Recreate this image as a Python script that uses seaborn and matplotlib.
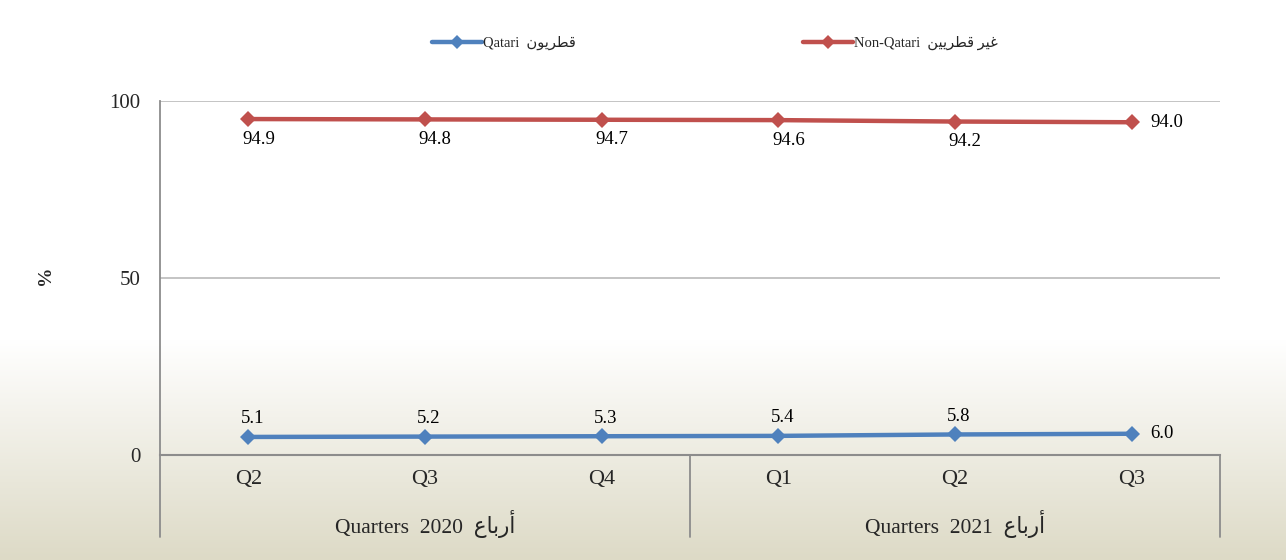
import numpy as np
import pandas as pd
import matplotlib
matplotlib.use("Agg")
import matplotlib.pyplot as plt
from matplotlib.font_manager import FontProperties
from matplotlib.lines import Line2D
import matplotlib.transforms as mtransforms
import seaborn as sns

# ---------------- data ----------------
quarters = ["Q2", "Q3", "Q4", "Q1", "Q2", "Q3"]
years = ["2020", "2021"]
year_sizes = [3, 3]
qatari = [5.1, 5.2, 5.3, 5.4, 5.8, 6.0]
non_qatari = [94.9, 94.8, 94.7, 94.6, 94.2, 94.0]
y_ticks = [0, 50, 100]

# Arabic text (pre-shaped presentation forms in visual order)
AR_QATARI = "\uFEE5\uFEEE\uFEF3\uFEAE\uFEC4\uFED7"            # قطريون
AR_NONQATARI = "\uFEE6\uFEF4\uFEF3\uFEAE\uFEC4\uFED7 \uFEAE\uFEF4\uFECF"  # غير قطريين
AR_QUARTERS = "\uFEC9\uFE8E\uFE91\uFEAD\uFE83"                # أرباع

lbl_qatari = "Qatari  " + AR_QATARI
lbl_non = "Non-Qatari  " + AR_NONQATARI

# ---------------- style ----------------
sns.set_style("white")
plt.rcParams["font.family"] = ["Liberation Serif", "DejaVu Sans"]

BLUE = "#4F81BD"
RED = "#C0504D"

W, H = 1286, 560
fig = plt.figure(figsize=(W / 100, H / 100), dpi=100)

# background gradient
bg = fig.add_axes([0, 0, 1, 1], zorder=-10)
bg.set_axis_off()
rows = np.linspace(0, 1, H)
g_start = 340 / H
top_c = np.array([1.0, 1.0, 1.0])
bot_c = np.array([221, 218, 198]) / 255.0
t = np.clip((rows - g_start) / (1 - g_start), 0, 1)[:, None]
grad = top_c * (1 - t) + bot_c * t
img = np.repeat(grad[:, None, :], W, axis=1)
bg.imshow(img, aspect="auto", extent=[0, 1, 0, 1], origin="upper")
bg.set_xlim(0, 1)
bg.set_ylim(0, 1)

# main axes
x0, x1 = 160, 1220
y_top, y_bot = 101, 455
ax = fig.add_axes([x0 / W, 1 - y_bot / H, (x1 - x0) / W, (y_bot - y_top) / H])
ax.set_facecolor("none")

pos = np.arange(len(quarters))
df = pd.DataFrame({
    "pos": np.concatenate([pos, pos]),
    "value": qatari + non_qatari,
    "series": [lbl_qatari] * len(pos) + [lbl_non] * len(pos),
})
sns.lineplot(data=df, x="pos", y="value", hue="series",
             palette={lbl_qatari: BLUE, lbl_non: RED},
             marker="D", markersize=8, markeredgewidth=0, linewidth=3.2,
             sort=False, legend=False, ax=ax)

ax.set_xlim(-0.5, len(quarters) - 0.5)
ax.set_ylim(0, 100)
ax.set_yticks(y_ticks)
ax.set_yticklabels([str(v) for v in y_ticks])
ax.set_xticks(pos)
ax.set_xticklabels(quarters)
ax.tick_params(axis="y", length=0, pad=14, labelsize=15)
ax.tick_params(axis="x", length=0, pad=11, labelsize=16)
ax.set_xlabel("")
ax.set_ylabel("")
ax.grid(False)
for v in y_ticks[1:]:
    ax.axhline(v, color="#BFBFBF", lw=1.3, zorder=0)
for s in ["top", "right"]:
    ax.spines[s].set_visible(False)
ax.spines["left"].set_color("#8C8C8C")
ax.spines["left"].set_linewidth(1.3)
ax.spines["bottom"].set_color("#8C8C8C")
ax.spines["bottom"].set_linewidth(1.5)

# data labels
offset = lambda dx, dy: mtransforms.offset_copy(ax.transData, fig=fig, x=dx, y=dy, units="dots")
n = len(quarters)
for i, v in enumerate(non_qatari):
    if i < n - 1:
        ax.text(i, v, f"{v:.1f}", transform=offset(10, -20), ha="center", va="center",
                fontsize=13.5, color="black")
    else:
        ax.text(i, v, f"{v:.1f}", transform=offset(19, 0), ha="left", va="center",
                fontsize=13.5, color="black")
for i, v in enumerate(qatari):
    if i < n - 1:
        ax.text(i, v, f"{v:.1f}", transform=offset(4, 18), ha="center", va="center",
                fontsize=13.5, color="black")
    else:
        ax.text(i, v, f"{v:.1f}", transform=offset(19, 0), ha="left", va="center",
                fontsize=13.5, color="black")

# multi-level category axis
trans = mtransforms.blended_transform_factory(ax.transData, ax.transAxes)
line_bottom = (y_bot - 537) / (y_bot - y_top)
bounds = np.concatenate([[0], np.cumsum(year_sizes)]) - 0.5
for b in bounds:
    ax.plot([b, b], [0, line_bottom], transform=trans, color="#8C8C8C", lw=1.3,
            clip_on=False)
grp_y = (y_bot - 524) / (y_bot - y_top)
for k, yr in enumerate(years):
    c = (bounds[k] + bounds[k + 1]) / 2
    ax.text(c, grp_y, f"Quarters  {yr}  {AR_QUARTERS}", transform=trans,
            ha="center", va="center", fontsize=15.5)

# y label
fig.text(46 / W, 1 - 275 / H, "%", rotation=90, ha="center", va="center",
         fontsize=14, fontweight="bold")

# legend (two entries placed at their positions)
prop = FontProperties(family=["Liberation Serif", "DejaVu Sans"], size=10.5)
for lbl, col, xs in [(lbl_qatari, BLUE, 432), (lbl_non, RED, 803)]:
    h = Line2D([], [], color=col, lw=3.2, marker="D", markersize=7, markeredgewidth=0)
    fig.legend([h], [lbl], loc="center left", bbox_to_anchor=(xs / W, 1 - 43 / H),
               frameon=False, prop=prop, handlelength=3.4, handletextpad=0.1,
               borderpad=0, borderaxespad=0)

fig.savefig("out.png", dpi=100)
